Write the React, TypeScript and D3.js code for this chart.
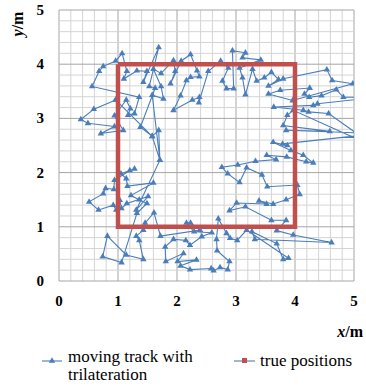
import React, { useEffect, useRef } from "react";
import * as d3 from "d3";

// estimated track positions (x, y in metres)
const trackX = [
  0.96, 0.59, 0.37, 0.49, 0.94, 0.71, 1.09, 0.94, 1.14, 1.21, 1.17, 1.28, 1.36, 0.56, 0.68, 0.75, 0.96, 1.07, 1.15, 1.1,
  1.32, 1.49, 1.43, 1.69, 1.53, 1.63, 1.38, 1.58, 1.69, 1.71, 1.58, 1.77, 1.73, 1.6, 1.73, 1.94, 1.97, 1.89, 2.07, 2.23,
  2.34, 2.38, 2.23, 2.16, 2.06, 1.94, 2.26, 2.38, 2.37, 2.53, 2.74, 2.87, 2.77, 2.84, 2.96, 2.94, 3.16, 3.11, 3.42, 3.06,
  3.11, 3.16, 3.28, 3.35, 3.48, 3.6, 3.72, 3.55, 3.8, 4.54, 4.63, 4.98, 3.96, 3.55, 3.75, 4.25, 4.16, 4.24, 4.45, 4.7,
  4.82, 5.4, 4.38, 4.31, 3.64, 4.14, 4.23, 4.57, 5.4, 3.97, 3.87, 3.8, 4.59, 3.85, 5.4, 3.79, 3.87, 3.63, 3.93, 4.14,
  4.31, 4.19, 3.86, 3.52, 3.68, 3.33, 3.03, 2.76, 2.86, 3.06, 3.18, 3.44, 3.53, 4.04, 4.08, 3.85, 3.63, 3.39, 3.52, 3.01,
  2.89, 3.16, 3.6, 3.85, 3.69, 3.97, 4.62, 3.32, 3.27, 3.69, 3.8, 3.89, 3.18, 3.02, 2.9, 2.84, 2.7, 2.67, 2.68, 2.89,
  2.86, 2.73, 2.62, 2.58, 2.22, 2.06, 2.33, 2.01, 2.11, 1.81, 1.8, 1.94, 2.15, 2.22, 2.42, 2.59, 2.29, 2.16, 2.23, 2.39,
  1.72, 1.61, 1.46, 1.43, 1.31, 1.36, 1.43, 1.14, 0.82, 0.74, 1.06, 1.32, 1.49, 1.36, 1.22, 1.6, 1.16, 1.14, 1.05, 1.28,
  1.2, 0.94, 0.93, 0.79, 0.75, 0.51, 0.67, 0.92, 0.97, 1.03, 1.06, 1.15, 1.51, 1.31, 1.71, 1.58, 0.96,
];
const trackY = [
  3.34, 3.17, 2.98, 2.91, 2.85, 2.72, 2.78, 3.05, 3.34, 3.18, 3.06, 3.09, 3.39, 3.59, 3.87, 3.96, 4.06, 4.2, 3.87, 3.73,
  3.88, 3.87, 3.67, 4.31, 3.59, 3.56, 2.84, 2.67, 2.78, 2.23, 3.43, 3.36, 3.59, 3.91, 3.83, 4.07, 3.87, 3.64, 4.06, 4.18,
  3.88, 3.77, 3.76, 3.7, 3.42, 3.15, 3.34, 3.39, 3.29, 3.87, 4.06, 3.93, 3.69, 3.55, 3.55, 4.25, 4.21, 4.12, 4.08, 3.93,
  3.75, 3.44, 3.91, 3.69, 3.75, 3.85, 3.72, 3.6, 3.73, 3.9, 3.7, 3.64, 3.33, 3.45, 3.52, 3.56, 3.45, 3.39, 3.42, 3.53,
  3.39, 3.39, 3.27, 3.24, 3.21, 3.15, 3.12, 3.09, 2.45, 3.15, 3.06, 2.87, 2.76, 2.78, 2.72, 2.53, 2.5, 2.56, 2.41, 2.32,
  2.18, 2.2, 2.29, 2.32, 2.24, 2.21, 2.14, 2.1, 1.98, 1.82, 2.09, 1.96, 1.74, 1.77, 1.6, 1.5, 1.42, 1.48, 1.42, 1.44,
  1.3, 1.37, 1.12, 1.12, 0.93, 0.85, 0.71, 0.77, 0.91, 0.69, 0.4, 0.42, 0.94, 0.75, 0.79, 0.88, 1.15, 0.77, 0.56, 0.36,
  0.21, 0.25, 0.19, 0.23, 0.21, 0.28, 0.39, 0.36, 0.51, 0.36, 0.63, 0.77, 0.75, 0.66, 0.82, 0.89, 0.91, 1.07, 1.07, 0.94,
  0.83, 1.26, 1.07, 0.94, 0.83, 0.75, 0.4, 0.48, 0.83, 0.45, 0.34, 1.25, 1.43, 1.5, 1.58, 1.81, 1.75, 1.89, 1.98, 2.07,
  2.04, 1.86, 1.69, 1.71, 1.61, 1.46, 1.31, 1.4, 1.31, 1.49, 1.34, 1.43, 1.56, 1.31, 2.23, 2.67, 3.34,
];
// true positions: corners of the square walked
const trueX = [1, 4, 4, 1, 1];
const trueY = [4, 4, 1, 1, 4];
const ticks = [0, 1, 2, 3, 4, 5];

const W = 366;
const H = 387;
const FONT = "'Liberation Serif', 'Times New Roman', Times, 'DejaVu Serif', serif";

const App = () => {
  const svgRef = useRef<SVGSVGElement>(null);

  useEffect(() => {
    const svg = d3.select(svgRef.current);
    svg.selectAll("*").remove();

    const x = d3.scaleLinear().domain([0, 5]).range([59, 354]);
    const y = d3.scaleLinear().domain([0, 5]).range([281, 10]);
    const blue = "#4a7ebb";
    const red = "#c0504d";

    svg
      .append("defs")
      .append("clipPath")
      .attr("id", "plot")
      .append("rect")
      .attr("x", x(0))
      .attr("y", y(5))
      .attr("width", x(5) - x(0))
      .attr("height", y(0) - y(5));

    // grid, minor every 0.2
    const minor = d3.range(0, 26).map((i) => i / 5);
    const grid = svg.append("g");
    grid
      .selectAll(".vx")
      .data(minor)
      .enter()
      .append("line")
      .attr("x1", (d) => x(d))
      .attr("x2", (d) => x(d))
      .attr("y1", y(0))
      .attr("y2", y(5))
      .attr("stroke", (d) => (Number.isInteger(d) ? "#a6a6a6" : "#d4d4d4"))
      .attr("stroke-width", 1);
    grid
      .selectAll(".hy")
      .data(minor)
      .enter()
      .append("line")
      .attr("y1", (d) => y(d))
      .attr("y2", (d) => y(d))
      .attr("x1", x(0))
      .attr("x2", x(5))
      .attr("stroke", (d) => (Number.isInteger(d) ? "#a6a6a6" : "#d4d4d4"))
      .attr("stroke-width", 1);

    // tick labels
    svg
      .append("g")
      .selectAll("text")
      .data(ticks)
      .enter()
      .append("text")
      .attr("x", (d) => x(d))
      .attr("y", 306)
      .attr("text-anchor", "middle")
      .attr("font-family", FONT)
      .attr("font-weight", "bold")
      .attr("font-size", 15)
      .text((d) => d);
    svg
      .append("g")
      .selectAll("text")
      .data(ticks)
      .enter()
      .append("text")
      .attr("x", 44)
      .attr("y", (d) => y(d) + 5)
      .attr("text-anchor", "end")
      .attr("font-family", FONT)
      .attr("font-weight", "bold")
      .attr("font-size", 15)
      .text((d) => d);

    // axis titles
    const xt = svg
      .append("text")
      .attr("x", 363)
      .attr("y", 337)
      .attr("text-anchor", "end")
      .attr("font-family", FONT)
      .attr("font-weight", "bold")
      .attr("font-size", 16);
    xt.append("tspan").attr("font-style", "italic").text("x");
    xt.append("tspan").text("/m");
    const yt = svg
      .append("text")
      .attr("transform", "translate(23,24) rotate(-90)")
      .attr("text-anchor", "middle")
      .attr("font-family", FONT)
      .attr("font-weight", "bold")
      .attr("font-size", 16);
    yt.append("tspan").attr("font-style", "italic").text("y");
    yt.append("tspan").text("/m");

    const plot = svg.append("g").attr("clip-path", "url(#plot)");

    // track
    const pts: [number, number][] = trackX.map((d, i) => [d, trackY[i]]);
    const line = d3
      .line<[number, number]>()
      .x((d) => x(d[0]))
      .y((d) => y(d[1]));
    plot
      .append("path")
      .datum(pts)
      .attr("d", line)
      .attr("fill", "none")
      .attr("stroke", blue)
      .attr("stroke-width", 1.1);
    const tri = d3.symbol().type(d3.symbolTriangle).size(18);
    plot
      .selectAll(".tri")
      .data(pts)
      .enter()
      .append("path")
      .attr("d", tri)
      .attr("transform", (d) => `translate(${x(d[0])},${y(d[1])})`)
      .attr("fill", blue);

    // true positions
    const tp: [number, number][] = trueX.map((d, i) => [d, trueY[i]]);
    svg
      .append("path")
      .datum(tp)
      .attr("d", line)
      .attr("fill", "none")
      .attr("stroke", red)
      .attr("stroke-width", 4.5)
      .attr("stroke-linejoin", "miter");

    // legend
    const lg = svg.append("g");
    lg.append("line")
      .attr("x1", 42)
      .attr("x2", 62)
      .attr("y1", 361)
      .attr("y2", 361)
      .attr("stroke", blue)
      .attr("stroke-width", 1.1);
    lg.append("path").attr("d", tri).attr("transform", "translate(52,361)").attr("fill", blue);
    lg.append("text")
      .attr("x", 68)
      .attr("y", 362)
      .attr("font-family", FONT)
      .attr("font-size", 17)
      .text("moving track with");
    lg.append("text")
      .attr("x", 68)
      .attr("y", 380)
      .attr("font-family", FONT)
      .attr("font-size", 17)
      .text("trilateration");
    lg.append("line")
      .attr("x1", 234)
      .attr("x2", 255)
      .attr("y1", 361)
      .attr("y2", 361)
      .attr("stroke", blue)
      .attr("stroke-width", 1.1);
    lg.append("rect")
      .attr("x", 242)
      .attr("y", 358)
      .attr("width", 5)
      .attr("height", 5)
      .attr("fill", red);
    lg.append("text")
      .attr("x", 260)
      .attr("y", 366)
      .attr("font-family", FONT)
      .attr("font-size", 17)
      .text("true positions");
  }, []);

  return (
    <svg
      ref={svgRef}
      width={W}
      height={H}
      style={{ position: "absolute", left: 0, top: 0, background: "#fff" }}
    ></svg>
  );
};

export default App;
